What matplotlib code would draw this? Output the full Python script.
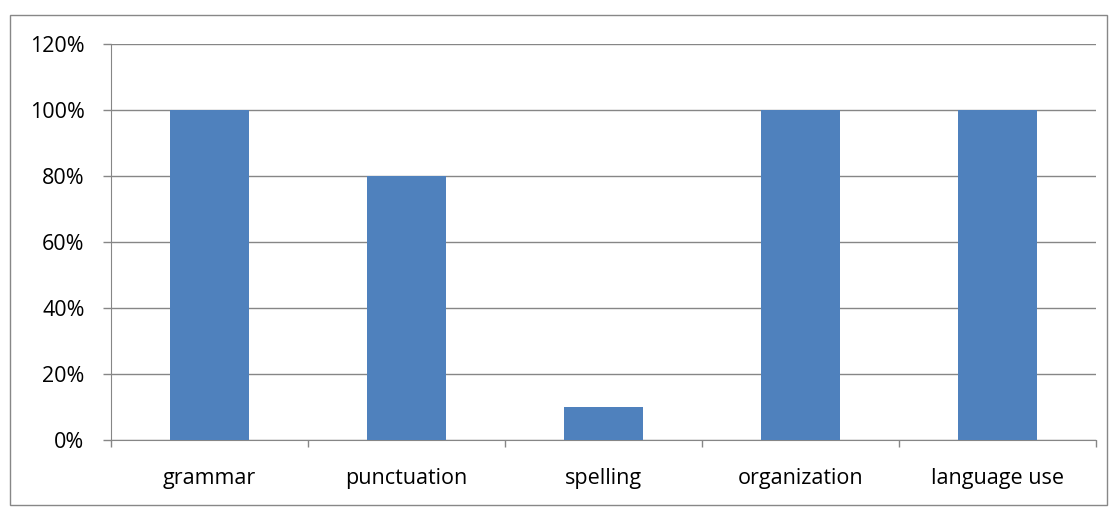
import matplotlib.pyplot as plt
import matplotlib.patches as mpatches
from matplotlib.ticker import PercentFormatter

categories = ["grammar", "punctuation", "spelling", "organization", "language use"]
values = [100, 80, 10, 100, 100]
yticks = [0, 20, 40, 60, 80, 100, 120]

W, H = 1113, 507
fig = plt.figure(figsize=(W / 100, H / 100), dpi=100)
plt.rcParams['font.family'] = ['Open Sans', 'DejaVu Sans']

# chart-area border
fig.patches.append(mpatches.Rectangle((10 / W, 1 - 505 / H), 1097 / W, 490 / H,
                                      transform=fig.transFigure, fill=False,
                                      edgecolor='#878787', linewidth=1))

ax = fig.add_axes([111 / W, 1 - 440 / H, 985 / W, 396 / H])
x = list(range(len(categories)))
ax.bar(x, values, width=0.4, color='#4F81BD', zorder=3)

ax.set_xlim(-0.5, len(categories) - 0.5)
ax.set_ylim(0, 120)
ax.set_yticks(yticks)
ax.yaxis.set_major_formatter(PercentFormatter(decimals=0))
ax.set_xticks([i - 0.5 for i in range(len(categories) + 1)])
ax.set_xticklabels([])
ax.set_xticks(x, minor=True)
ax.set_xticklabels(categories, minor=True)
ax.tick_params(axis='x', which='minor', length=0, pad=20, labelsize=15.5)
ax.tick_params(axis='x', which='major', length=5, color='#868686', width=1)
ax.tick_params(axis='y', length=6, color='#868686', width=1, labelsize=15.5, pad=13)

ax.grid(axis='y', color='#868686', linewidth=1, zorder=0)
for s in ['top', 'right']:
    ax.spines[s].set_visible(False)
ax.spines['left'].set_color('#868686')
ax.spines['bottom'].set_color('#868686')

fig.savefig('out.png', dpi=100)
